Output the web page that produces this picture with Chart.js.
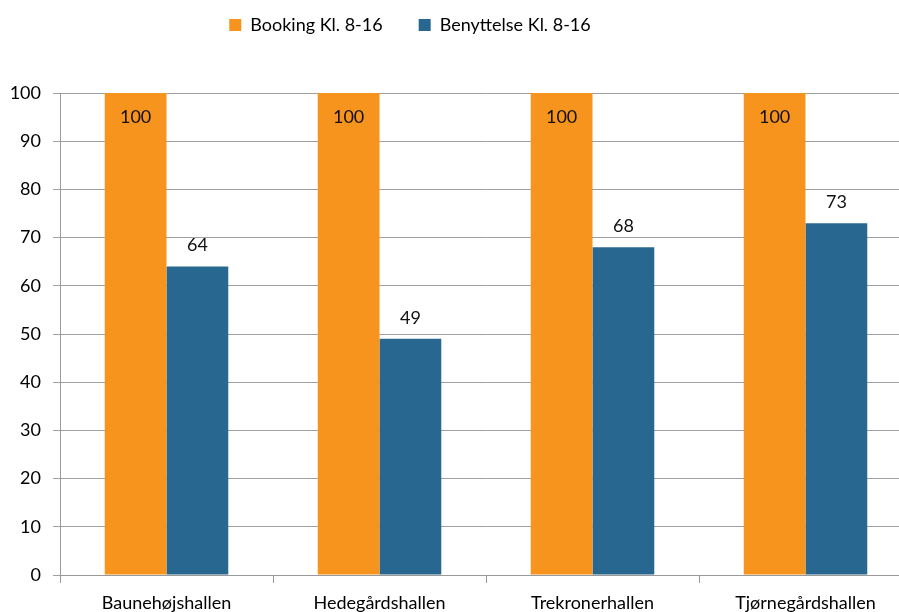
<!DOCTYPE html>
<html>
<head>
<meta charset="utf-8">
<script src="https://cdn.jsdelivr.net/npm/chart.js@4/dist/chart.umd.min.js"></script>
<style>
  html, body { margin: 0; padding: 0; background: #fff; overflow: hidden; }
  #wrap { width: 899px; height: 612px; overflow: hidden; }
  #box { width: 912px; height: 612px; }
</style>
</head>
<body>
<div id="wrap"><div id="box"><canvas id="chart"></canvas></div></div>
<script>
let halls = ['Baunehøjshallen', 'Hedegårdshallen', 'Trekronerhallen', 'Tjørnegårdshallen'];
let booking = [100, 100, 100, 100];
let benyttelse = [64, 49, 68, 73];

let font = "Lato, 'Liberation Sans', sans-serif";
Chart.defaults.font.family = font;
Chart.defaults.font.size = 18;
Chart.defaults.color = '#000';

// labels over / inside the bars
let barLabels = {
  id: 'barLabels',
  afterDatasetsDraw(chart) {
    let ctx = chart.ctx;
    ctx.save();
    ctx.font = '18px ' + font;
    ctx.fillStyle = '#111';
    ctx.textAlign = 'center';
    ctx.textBaseline = 'middle';
    chart.data.datasets.forEach((ds, di) => {
      chart.getDatasetMeta(di).data.forEach((bar, i) => {
        let y = di === 0 ? bar.y + 24 : bar.y - 21;
        ctx.fillText(ds.data[i], bar.x, y);
      });
    });
    ctx.restore();
  }
};

// give the legend a fixed block height, and nudge it up/left
let legendSpace = {
  id: 'legendSpace',
  beforeInit(chart) {
    let fit = chart.legend.fit;
    chart.legend.fit = function () {
      fit.bind(chart.legend)();
      this.height = 93;
    };
  },
  afterLayout(chart) {
    chart.legend.left -= 46;
    chart.legend.right -= 46;
    chart.legend.top -= 20;
    chart.legend.bottom -= 20;
  }
};

new Chart(document.getElementById('chart'), {
  type: 'bar',
  data: {
    labels: halls,
    datasets: [{
        label: 'Booking Kl. 8-16',
        data: booking,
        backgroundColor: '#F7941E'
      }, {
        label: 'Benyttelse Kl. 8-16',
        data: benyttelse,
        backgroundColor: '#286890'
      }
    ]
  },
  options: {
    animation: { duration: 0 },
    events: [],
    responsive: true,
    maintainAspectRatio: false,
    layout: { padding: 0 },
    datasets: { bar: { categoryPercentage: 0.58, barPercentage: 1.0 } },
    plugins: {
      legend: {
        position: 'top',
        labels: { boxWidth: 12, boxHeight: 12, padding: 36, font: { size: 18 } }
      },
      tooltip: { enabled: false }
    },
    scales: {
      x: {
        grid: { offset: true, drawOnChartArea: false, tickLength: 8, color: '#999' },
        border: { color: '#999' },
        ticks: { padding: 9, font: { size: 18 } },
        afterFit(scale) { scale.height = 37; }
      },
      y: {
        min: 0,
        max: 100,
        ticks: { stepSize: 10, padding: 12, font: { size: 18 } },
        grid: { tickLength: 7, color: '#a0a0a0' },
        border: { color: '#999' },
        afterFit(scale) { scale.width = 60; }
      }
    }
  },
  plugins: [barLabels, legendSpace]
});
</script>
</body>
</html>
